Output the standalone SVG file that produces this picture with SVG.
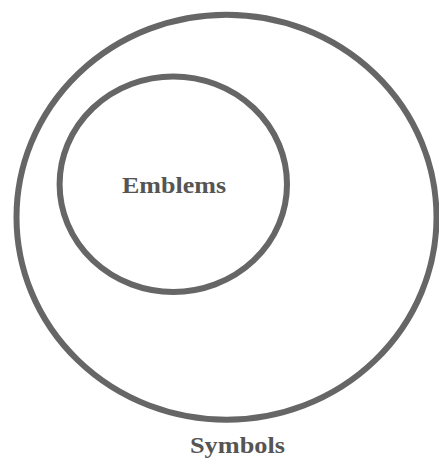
<svg xmlns="http://www.w3.org/2000/svg" width="439" height="461" viewBox="0 0 439 461">
<style>
.ring{fill:none;stroke:#666666;stroke-width:6}
.lbl{font-family:"Liberation Serif","DejaVu Serif",serif;font-weight:bold;font-size:24px;fill:#555555;text-anchor:middle}
</style>
<rect width="439" height="461" fill="#ffffff"/>
<g id="symbols">
<ellipse class="ring" cx="226.5" cy="217.2" rx="210" ry="202.5"/>
<text class="lbl" x="237.5" y="453" textLength="95" lengthAdjust="spacingAndGlyphs">Symbols</text>
</g>
<g id="emblems">
<ellipse class="ring" cx="173.3" cy="184.2" rx="113.7" ry="107.8"/>
<text class="lbl" x="174" y="192.5" textLength="104" lengthAdjust="spacingAndGlyphs">Emblems</text>
</g>
<g id="connectors"/>
</svg>
